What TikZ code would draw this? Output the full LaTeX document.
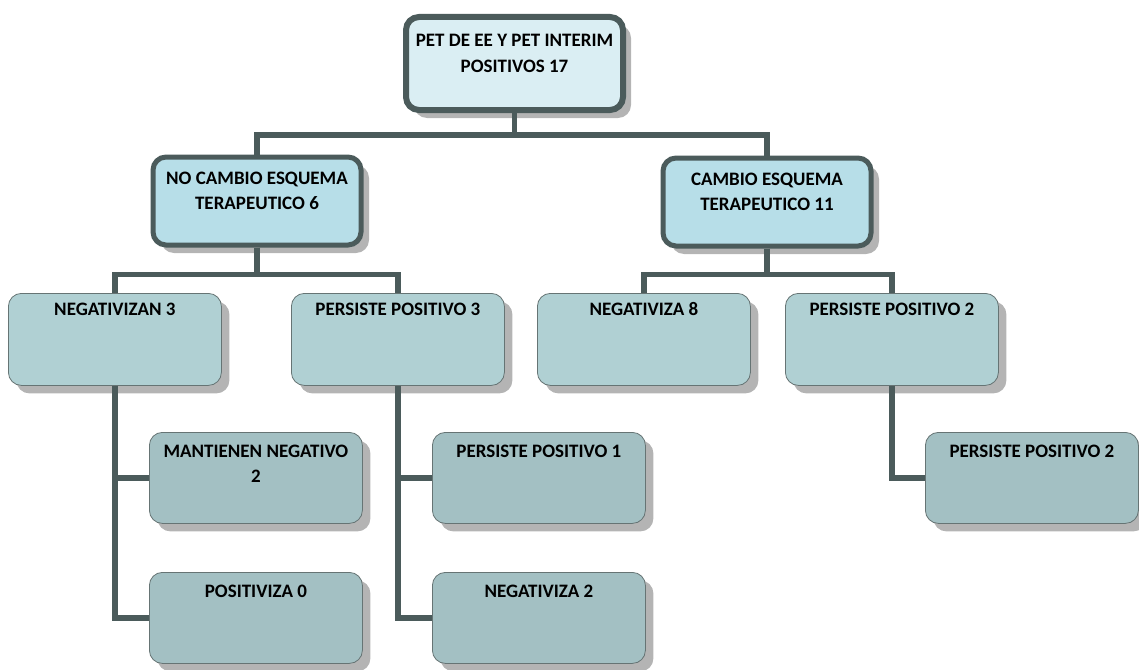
\documentclass[tikz,border=0pt]{standalone}
\usepackage{fontspec}
\setmainfont{Carlito}
\usetikzlibrary{shadows}
\definecolor{lineg}{HTML}{4B5B5B}
\definecolor{topc}{HTML}{DAEEF3}
\definecolor{midc}{HTML}{B7DEE8}
\definecolor{lowc}{HTML}{B0D0D3}
\definecolor{botc}{HTML}{A3C0C3}
\definecolor{shadc}{HTML}{B4B4B4}
\newcommand{\narrowsp}{\spaceskip=0.226em\relax}
\begin{document}
\begin{tikzpicture}[x=1pt,y=-1pt,
  base/.style={anchor=north west,inner sep=0pt,align=center,rounded corners=13pt,
    font=\bfseries\fontsize{19}{25}\selectfont,execute at begin node=\narrowsp,
    drop shadow={shadow xshift=8pt,shadow yshift=-8pt,fill=shadc,opacity=1}},
  head/.style={base,draw=lineg,line width=6pt,fill=topc,text width=217pt,text height=30pt,text depth=63pt},
  mid/.style={base,draw=lineg,line width=5pt,fill=midc,text width=208pt,text height=27.5pt,text depth=60.5pt},
  low/.style={base,draw=lineg!85,line width=0.8pt,fill=lowc,text width=213pt,text height=22pt,text depth=70pt},
  leaf/.style={base,draw=lineg!85,line width=0.8pt,fill=botc,text width=213pt,text height=25pt,text depth=66pt},
  link/.style={draw=lineg,line width=5.5pt}]
\useasboundingbox (0,0) rectangle (1139,669);

\node[head] (pet) at (403,14) {PET DE EE Y PET INTERIM\\POSITIVOS 17};
\node[mid] (nocb) at (150.5,154.5) {NO CAMBIO ESQUEMA\\TERAPEUTICO 6};
\node[mid] (camb) at (660.5,155.5) {CAMBIO ESQUEMA\\TERAPEUTICO 11};

\node[low] (neg3) at (8,293) {NEGATIVIZAN 3};
\node[low] (pers3) at (291,293) {PERSISTE POSITIVO 3};
\node[low] (neg8) at (537,293) {NEGATIVIZA 8};
\node[low] (pers2) at (785,293) {PERSISTE POSITIVO 2};

\node[leaf] (mant) at (149,432) {MANTIENEN NEGATIVO\\2};
\node[leaf] (posz) at (149,572) {POSITIVIZA 0};
\node[leaf] (pers1) at (432,432) {PERSISTE POSITIVO 1};
\node[leaf] (neg2) at (432,572) {NEGATIVIZA 2};
\node[leaf] (persb) at (925,432) {PERSISTE POSITIVO 2};

\draw[link] (pet.south) -- ++(0,22) -| (nocb.north);
\draw[link] (pet.south) -- ++(0,22) -| (camb.north);
\draw[link] (nocb.south) -- ++(0,27) -| (neg3.north);
\draw[link] (nocb.south) -- ++(0,27) -| (pers3.north);
\draw[link] (camb.south) -- ++(0,26) -| (neg8.north);
\draw[link] (camb.south) -- ++(0,26) -| (pers2.north);
\draw[link] (neg3.south) |- (mant.west);
\draw[link] (neg3.south) |- (posz.west);
\draw[link] (pers3.south) |- (pers1.west);
\draw[link] (pers3.south) |- (neg2.west);
\draw[link] (pers2.south) |- (persb.west);
\end{tikzpicture}
\end{document}
